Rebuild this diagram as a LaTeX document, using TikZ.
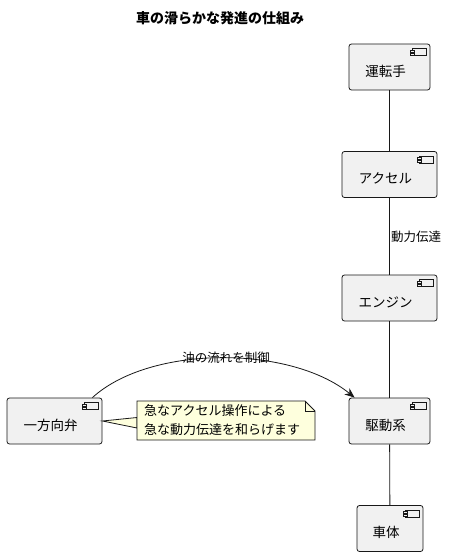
\documentclass[tikz,border=0pt]{standalone}
\usepackage{fontspec}
\setmainfont{Noto Sans CJK JP}
\usetikzlibrary{arrows.meta}
\definecolor{boxfill}{HTML}{F1F1F1}
\definecolor{boxline}{HTML}{181818}
\definecolor{notefill}{HTML}{FEFFDD}
\tikzset{
  comp/.style={draw=boxline, fill=boxfill, line width=0.8pt, rounded corners=2.5pt, inner sep=0pt, minimum height=46pt},
  ctext/.style={font=\fontsize{13.5pt}{15pt}\selectfont, inner sep=0pt, text=black},
  elabel/.style={font=\fontsize{12.5pt}{15pt}\selectfont, inner sep=0pt, text=black},
  conn/.style={draw=boxline, line width=0.8pt},
  icon/.style={draw=boxline, fill=boxfill, line width=0.6pt},
}
\begin{document}
\begin{tikzpicture}[x=1pt,y=-1pt]
\useasboundingbox (0,0) rectangle (450,556);
% title
\node[font=\bfseries\fontsize{14pt}{16pt}\selectfont, inner sep=0pt] (title) at (220,18) {車の滑らかな発進の仕組み};
% components
\node[comp, minimum width=81pt] (driver) at (389.5,67) {};
\node[comp, minimum width=95pt] (accel) at (389.5,174.5) {};
\node[comp, minimum width=95pt] (engine) at (389.5,298) {};
\node[comp, minimum width=81pt] (drive) at (389.5,421) {};
\node[comp, minimum width=66pt] (body) at (390,528.5) {};
\node[comp, minimum width=95pt] (valve) at (54.5,421) {};
% texts
\node[ctext] (tdriver) at ([shift={(-4,4)}]driver.center) {運転手};
\node[ctext] (taccel) at ([shift={(-4,4)}]accel.center) {アクセル};
\node[ctext] (tengine) at ([shift={(-4,4)}]engine.center) {エンジン};
\node[ctext] (tdrive) at ([shift={(-4,4)}]drive.center) {駆動系};
\node[ctext] (tbody) at ([shift={(-4,4)}]body.center) {車体};
\node[ctext] (tvalve) at ([shift={(-4,4)}]valve.center) {一方向弁};
% icons
\foreach \n in {driver,accel,engine,drive,body,valve}{
  \draw[icon] ([shift={(-18,5)}]\n.north east) rectangle ([shift={(-4,12)}]\n.north east);
  \draw[icon] ([shift={(-20,6.5)}]\n.north east) rectangle ([shift={(-16,8.5)}]\n.north east);
  \draw[icon] ([shift={(-20,9.5)}]\n.north east) rectangle ([shift={(-16,11.5)}]\n.north east);
}
% vertical links
\draw[conn] (driver) -- (accel);
\draw[conn] (accel) -- (engine);
\draw[conn] (engine) -- (drive);
\draw[conn] (drive) -- (body);
\node[elabel, anchor=west] (lpower) at (391,237) {動力伝達};
% curved arrow
\draw[conn, -{Stealth[length=10pt,width=8pt]}] ([xshift=-10pt]valve.north east) .. controls (150,345) and (290,345) .. ([xshift=6pt]drive.north west);
\node[elabel] (loil) at (226,358) {油の流れを制御};
% note
\coordinate (ntip) at (valve.east);
\filldraw[draw=boxline, fill=notefill, line width=0.8pt] (ntip) -- (137,417.5) -- (137,428) -- cycle;
\filldraw[draw=boxline, fill=notefill, line width=0.8pt] (137,401) -- (305,401) -- (315,411) -- (315,440) -- (137,440) -- cycle;
\draw[boxline, line width=0.8pt] (305,401) -- (305,411) -- (315,411);
\node[ctext, anchor=north west, align=left, font=\fontsize{13pt}{19pt}\selectfont] (note) at (144,404) {急なアクセル操作による\\急な動力伝達を和らげます};
\end{tikzpicture}
\end{document}
